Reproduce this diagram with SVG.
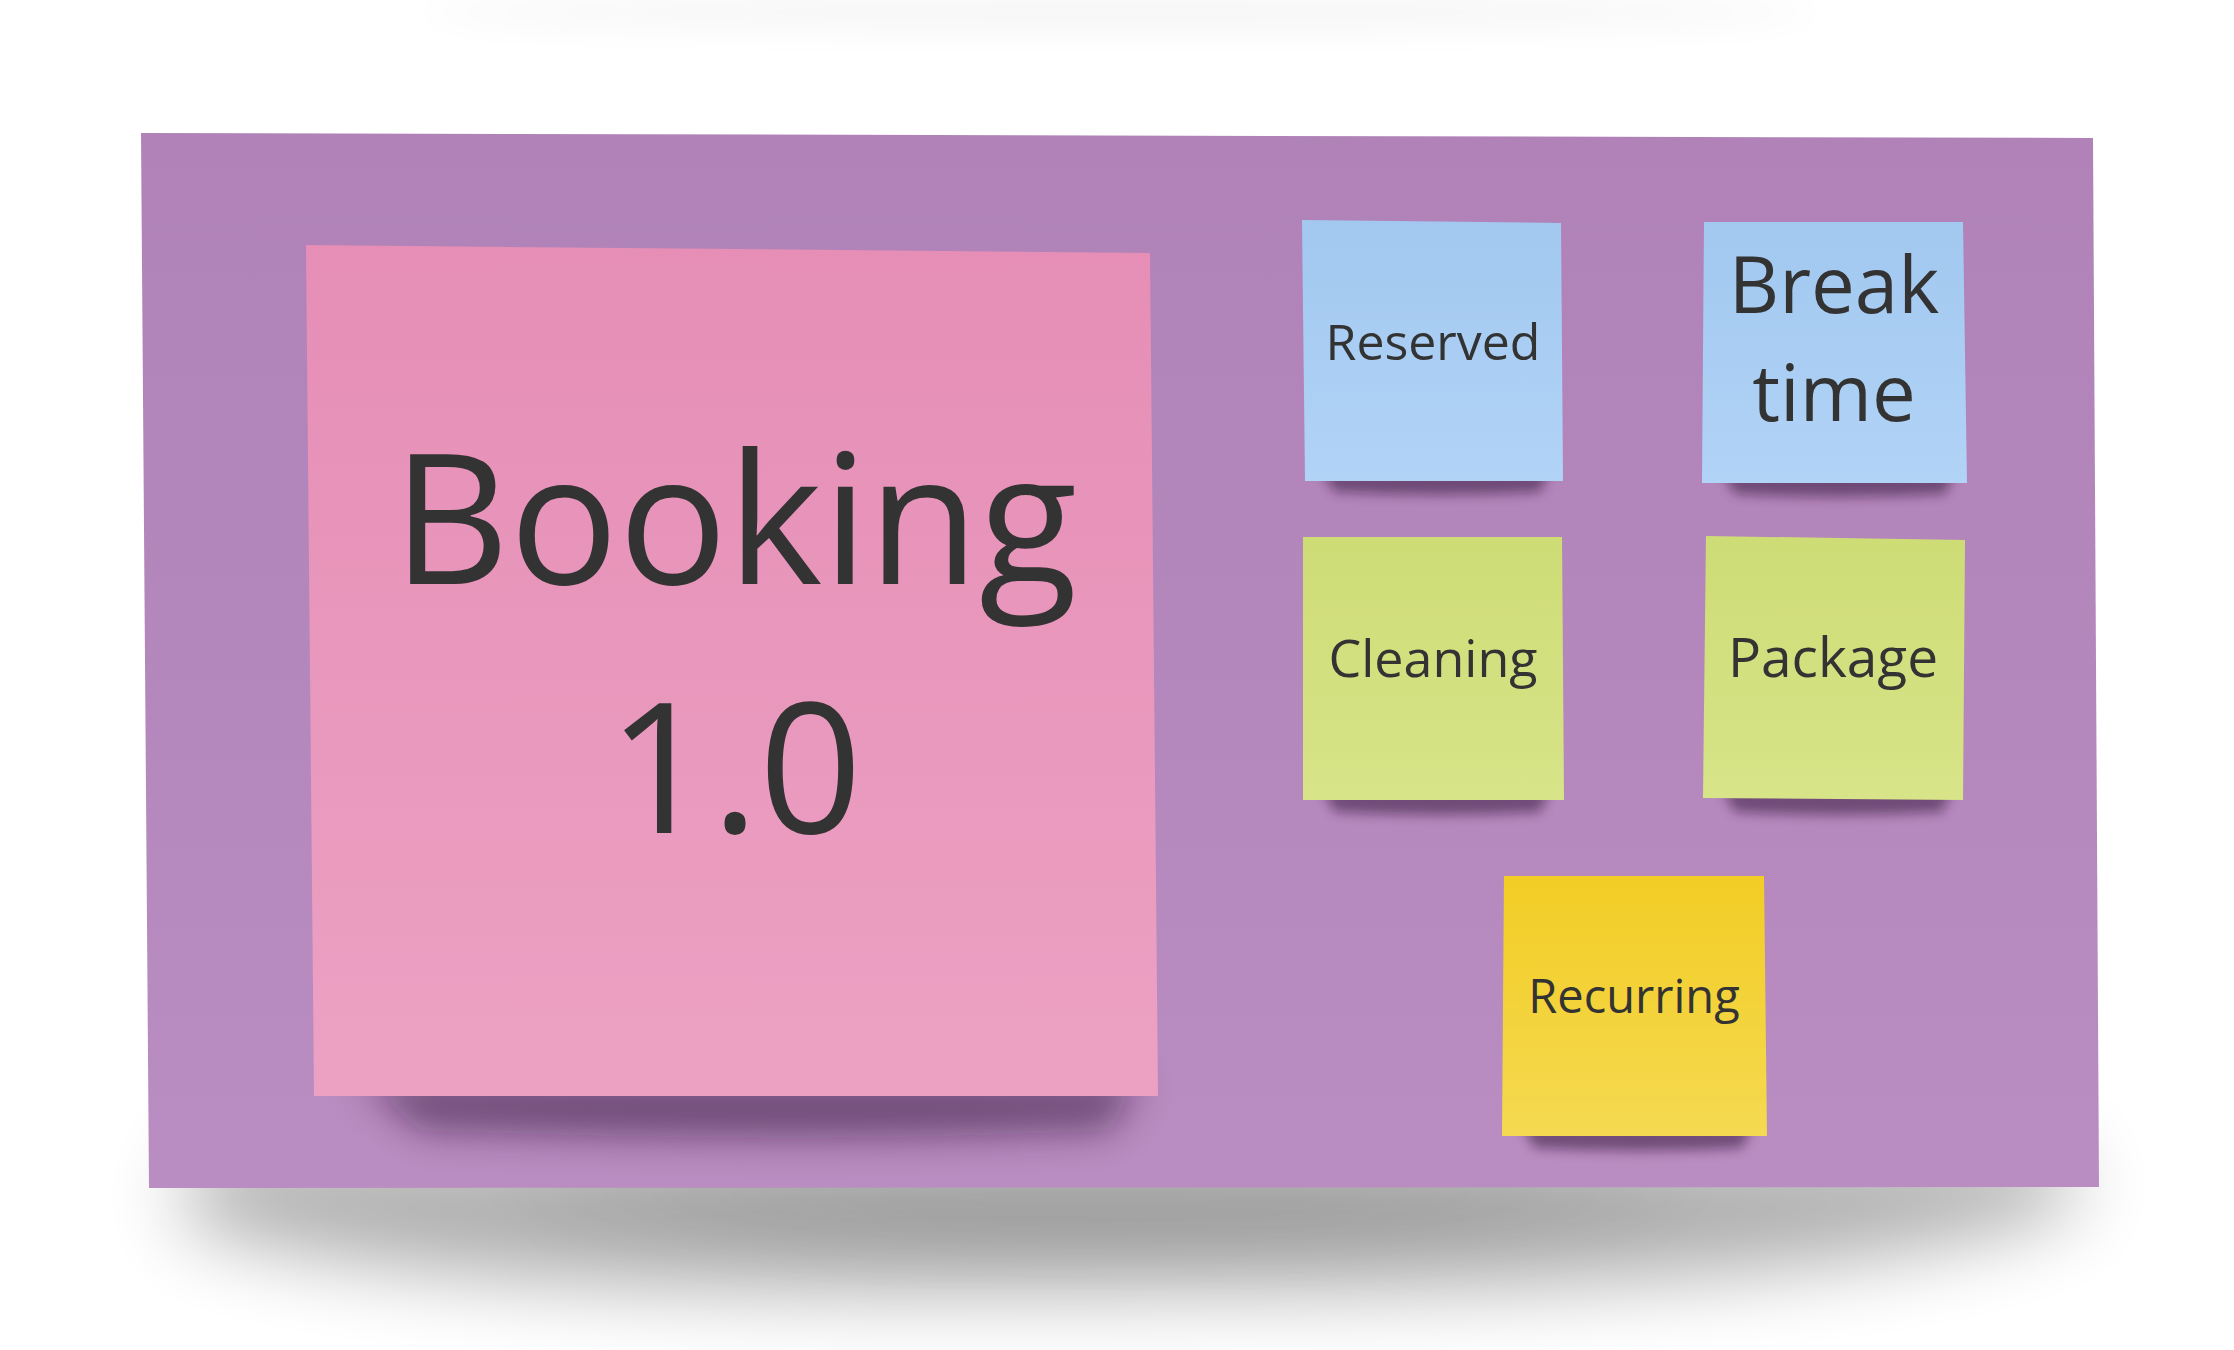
<svg xmlns="http://www.w3.org/2000/svg" width="2234" height="1350" viewBox="0 0 2234 1350">
<defs>
<style>
.t{font-family:"Open Sans","Noto Sans","Liberation Sans",sans-serif;fill:#333333;text-anchor:middle}
</style>
<filter id="bigblur" x="-30%" y="-100%" width="160%" height="300%"><feGaussianBlur stdDeviation="40"/></filter>
<filter id="midblur" x="-30%" y="-100%" width="160%" height="300%"><feGaussianBlur stdDeviation="18"/></filter>
<filter id="smblur" x="-30%" y="-100%" width="160%" height="300%"><feGaussianBlur stdDeviation="6"/></filter>
<linearGradient id="gBoard" x1="0" y1="0" x2="0" y2="1"><stop offset="0" stop-color="#b082b8"/><stop offset="1" stop-color="#b98dc1"/></linearGradient>
<linearGradient id="gPink" x1="0" y1="0" x2="0" y2="1"><stop offset="0" stop-color="#e68eb6"/><stop offset="1" stop-color="#eca1c3"/></linearGradient>
<linearGradient id="gBlue" x1="0" y1="0" x2="0" y2="1"><stop offset="0" stop-color="#a2c8f0"/><stop offset="1" stop-color="#b1d3f6"/></linearGradient>
<linearGradient id="gGreen" x1="0" y1="0" x2="0" y2="1"><stop offset="0" stop-color="#cedc76"/><stop offset="1" stop-color="#d7e488"/></linearGradient>
<linearGradient id="gYellow" x1="0" y1="0" x2="0" y2="1"><stop offset="0" stop-color="#f2cd25"/><stop offset="1" stop-color="#f5d950"/></linearGradient>
</defs>
<rect width="2234" height="1350" fill="#ffffff"/>

<g id="board">
<ellipse cx="1120" cy="12" rx="700" ry="14" fill="#000" opacity="0.05" filter="url(#midblur)"/>
<path d="M200 1150 L2060 1150 L2080 1200 Q1900 1290 1150 1290 Q400 1300 180 1220 Z" fill="#000" opacity="0.32" filter="url(#bigblur)"/>
<path d="M500 1170 L1700 1170 Q1500 1230 1100 1230 Q700 1230 500 1170 Z" fill="#000" opacity="0.15" filter="url(#bigblur)"/>
<polygon points="141,133 2093,138 2099,1187 149,1188" fill="url(#gBoard)"/>
</g>

<g id="booking">
<path d="M360 1080 L1140 1080 L1110 1130 Q800 1145 420 1130 Z" fill="#2a1030" opacity="0.5" filter="url(#midblur)"/>
<polygon points="306,245 1150,253 1158,1096 314,1096" fill="url(#gPink)"/>
<text class="t" x="735" y="584" font-size="181">Booking</text>
<text class="t" x="735" y="833" font-size="181">1.0</text>
</g>

<g id="reserved">
<path d="M1320 470 L1550 470 L1540 492 Q1440 498 1335 492 Z" fill="#2a1030" opacity="0.5" filter="url(#smblur)"/>
<polygon points="1302,220 1561,223 1563,481 1305,481" fill="url(#gBlue)"/>
<text class="t" x="1433" y="360" font-size="50">Reserved</text>
</g>

<g id="breaktime">
<path d="M1722 472 L1955 472 L1945 494 Q1840 500 1735 494 Z" fill="#2a1030" opacity="0.5" filter="url(#smblur)"/>
<polygon points="1704,222 1963,222 1967,483 1702,483" fill="url(#gBlue)"/>
<text class="t" x="1834" y="313" font-size="78">Break</text>
<text class="t" x="1834" y="421" font-size="78">time</text>
</g>

<g id="cleaning">
<path d="M1322 790 L1550 790 L1540 812 Q1440 818 1335 812 Z" fill="#2a1030" opacity="0.5" filter="url(#smblur)"/>
<polygon points="1303,537 1562,537 1564,800 1303,800" fill="url(#gGreen)"/>
<text class="t" x="1433" y="677" font-size="52">Cleaning</text>
</g>

<g id="package">
<path d="M1722 790 L1952 790 L1942 812 Q1840 818 1735 812 Z" fill="#2a1030" opacity="0.5" filter="url(#smblur)"/>
<polygon points="1706,536 1965,540 1963,800 1703,798" fill="url(#gGreen)"/>
<text class="t" x="1833" y="677" font-size="55">Package</text>
</g>

<g id="recurring">
<path d="M1522 1126 L1752 1126 L1742 1148 Q1640 1154 1535 1148 Z" fill="#2a1030" opacity="0.5" filter="url(#smblur)"/>
<polygon points="1504,876 1764,876 1767,1136 1502,1136" fill="url(#gYellow)"/>
<text class="t" x="1634" y="1013" font-size="47">Recurring</text>
</g>

<g id="connectors"></g>
</svg>
